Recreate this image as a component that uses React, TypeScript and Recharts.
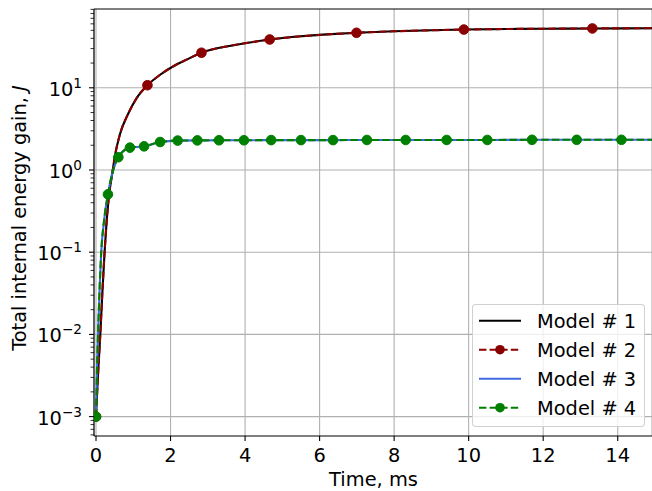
import React from "react";
import {
  CartesianGrid,
  ComposedChart,
  Legend,
  Line,
  ReferenceLine,
  XAxis,
  YAxis,
} from "recharts";

// Models 1/2: slow rise to ~53 J. Models 3/4: fast rise, plateau ~2.3 J.
const TIME_A = [0, 0.05, 0.115, 0.17, 0.23, 0.28, 0.34, 0.45, 0.51, 0.64, 0.87, 1.09, 1.38, 1.72, 2.16, 2.43, 2.83, 3.5, 4.0, 4.66, 5.5, 6.2, 6.99, 8.0, 9.0, 9.87, 11.0, 12.0, 13.32, 14.2, 15.0];
const MODEL_1 = [0.001, 0.003, 0.01, 0.032, 0.1, 0.22, 0.45, 1.0, 1.5, 2.7, 4.9, 7.5, 10.75, 14.4, 19.2, 22.0, 26.7, 31.8, 34.8, 38.7, 42.3, 44.6, 46.7, 48.7, 50.1, 51.1, 51.9, 52.3, 52.7, 52.9, 53.0];
const MODEL_2 = [0.001, 0.003, 0.01, 0.032, 0.1, 0.22, 0.45, 1.0, 1.5, 2.7, 4.9, 7.5, 10.75, 14.4, 19.2, 22.0, 26.7, 31.8, 34.8, 38.7, 42.3, 44.6, 46.7, 48.7, 50.1, 51.1, 51.9, 52.3, 52.7, 52.9, 53.0];
const MODEL_2_MARKS = [0, 1.38, 2.83, 4.66, 6.99, 9.87, 13.32];

const TIME_B = [0, 0.025, 0.054, 0.1, 0.14, 0.22, 0.32, 0.6, 0.91, 1.29, 1.72, 2.19, 2.72, 3.3, 3.97, 4.7, 5.5, 6.36, 7.27, 8.31, 9.41, 10.5, 11.7, 12.9, 14.1, 15.0];
const MODEL_3 = [0.001, 0.0035, 0.01, 0.04, 0.1, 0.25, 0.506, 1.43, 1.87, 1.94, 2.19, 2.28, 2.29, 2.3, 2.3, 2.31, 2.31, 2.31, 2.32, 2.32, 2.32, 2.32, 2.33, 2.33, 2.33, 2.33];
const MODEL_4 = [0.001, 0.0035, 0.01, 0.04, 0.1, 0.25, 0.506, 1.43, 1.87, 1.94, 2.19, 2.28, 2.29, 2.3, 2.3, 2.31, 2.31, 2.31, 2.32, 2.32, 2.32, 2.32, 2.33, 2.33, 2.33, 2.33];
const MODEL_4_MARKS = [0, 0.32, 0.6, 0.91, 1.29, 1.72, 2.19, 2.72, 3.3, 3.97, 4.7, 5.5, 6.36, 7.27, 8.31, 9.41, 10.5, 11.7, 12.9, 14.1];

const X_TICKS = [0, 2, 4, 6, 8, 10, 12, 14];
const Y_MAJOR = [0.001, 0.01, 0.1, 1, 10];
const Y_MINOR_MULT = [2, 3, 4, 5, 6, 7, 8, 9];
const LEGEND_NAMES = ["Model # 1", "Model # 2", "Model # 3", "Model # 4"];

const X_MIN = -0.054;
const X_MAX = 14.92;
const Y_MIN = 5.81e-4;
const Y_MAX = 90.9;

const FONT = '"DejaVu Sans", sans-serif';
const FS = 19.4;
const C1 = "#000000";
const C2 = "#8b0000";
const C3 = "#4169e1";
const C4 = "#008000";
const GRID = "#b0b0b0";

const toRows = (ts: number[], vs: number[]) => ts.map((t, i) => ({ t, v: vs[i] }));
const m1 = toRows(TIME_A, MODEL_1);
const m2 = toRows(TIME_A, MODEL_2);
const m3 = toRows(TIME_B, MODEL_3);
const m4 = toRows(TIME_B, MODEL_4);

const yTicks = [...Y_MAJOR, ...[0.0001, ...Y_MAJOR].flatMap((d) => Y_MINOR_MULT.map((m) => +(d * m).toPrecision(3)))]
  .filter((v) => v >= Y_MIN && v <= Y_MAX)
  .sort((a, b) => a - b);

const supMinus = (e: number) => (e < 0 ? `\u2212${-e}` : `${e}`);

function YTick(props: any) {
  const { x, y, payload } = props;
  const v = payload.value;
  if (!Y_MAJOR.includes(v)) {
    return <line x1={x - 3.5} x2={x} y1={y} y2={y} stroke="#000" strokeWidth={0.8} />;
  }
  const e = Math.round(Math.log10(v));
  return (
    <g>
      <line x1={x - 5} x2={x} y1={y} y2={y} stroke="#000" strokeWidth={1.1} />
      <text x={x - 12} y={y + 8} textAnchor="end" fontFamily={FONT} fontSize={FS} fill="#000">
        10<tspan dy={-8} fontSize={13.6}>{supMinus(e)}</tspan>
      </text>
    </g>
  );
}

function XTick(props: any) {
  const { x, y, payload } = props;
  return (
    <g>
      <line x1={x} x2={x} y1={y} y2={y + 5} stroke="#000" strokeWidth={1.1} />
      <text x={x} y={y + 25.5} textAnchor="middle" fontFamily={FONT} fontSize={FS} fill="#000">
        {payload.value}
      </text>
    </g>
  );
}

const markDot = (marks: number[], color: string) => (props: any) => {
  const { cx, cy, payload, index } = props;
  if (!marks.includes(payload.t)) return <g key={`n${index}`} />;
  return <circle key={`m${index}`} cx={cx} cy={cy} r={4.8} fill={color} stroke={color} strokeWidth={1} />;
};

function LegendBox() {
  const styles = [
    { color: C1, dash: undefined, mark: false },
    { color: C2, dash: "7.4 3.2", mark: true },
    { color: C3, dash: undefined, mark: false },
    { color: C4, dash: "7.4 3.2", mark: true },
  ];
  return (
    <div
      style={{
        width: 173,
        height: 123,
        boxSizing: "border-box",
        border: "1px solid rgba(204,204,204,0.9)",
        borderRadius: 4,
        background: "rgba(255,255,255,0.8)",
      }}
    >
      <svg width={171} height={121} style={{ display: "block" }}>
        {LEGEND_NAMES.map((name, i) => {
          const cy = 15.7 + i * 29;
          const s = styles[i];
          return (
            <g key={name}>
              <line x1={6} x2={48} y1={cy} y2={cy} stroke={s.color} strokeWidth={2.1} strokeDasharray={s.dash} />
              {s.mark && <circle cx={27} cy={cy} r={4.8} fill={s.color} />}
              <text x={64} y={cy + 7} fontFamily={FONT} fontSize={FS} fill="#000">
                {name}
              </text>
            </g>
          );
        })}
      </svg>
    </div>
  );
}

export default function App() {
  return (
    <div style={{ position: "absolute", left: 0, top: 0, width: 652, height: 491, background: "#fff" }}>
      <ComposedChart width={652} height={491} margin={{ top: 9, right: 0, bottom: 0, left: 0 }}>
        <CartesianGrid horizontal={false} stroke={GRID} strokeWidth={1.1} />
        {Y_MAJOR.map((v) => (
          <ReferenceLine key={v} y={v} stroke={GRID} strokeWidth={1.1} />
        ))}
        <ReferenceLine y={Y_MAX} stroke="#000" strokeWidth={1.1} ifOverflow="visible" />
        <XAxis
          dataKey="t"
          type="number"
          domain={[X_MIN, X_MAX]}
          allowDataOverflow
          ticks={X_TICKS}
          interval={0}
          tick={<XTick />}
          tickSize={0}
          tickMargin={0}
          tickLine={false}
          height={55}
          axisLine={{ stroke: "#000", strokeWidth: 1.1 }}
          label={{
            content: () => (
              <text x={373.5} y={486} textAnchor="middle" fontFamily={FONT} fontSize={FS} fill="#000">
                Time, ms
              </text>
            ),
          }}
        />
        <YAxis
          type="number"
          scale="log"
          domain={[Y_MIN, Y_MAX]}
          allowDataOverflow
          ticks={yTicks}
          interval={0}
          tick={<YTick />}
          tickSize={0}
          tickMargin={0}
          tickLine={false}
          width={94}
          axisLine={{ stroke: "#000", strokeWidth: 1.1 }}
          label={{
            content: () => (
              <text
                x={26}
                y={218}
                transform="rotate(-90 26 218)"
                textAnchor="middle"
                fontFamily={FONT}
                fontSize={FS}
                fill="#000"
              >
                Total internal energy gain, <tspan fontStyle="italic">J</tspan>
              </text>
            ),
          }}
        />
        <Line data={m1} dataKey="v" name="Model # 1" type="monotone" stroke={C1} strokeWidth={2.1} dot={false} activeDot={false} isAnimationActive={false} />
        <Line data={m2} dataKey="v" name="Model # 2" type="monotone" stroke={C2} strokeWidth={2.1} strokeDasharray="7.4 3.2" dot={markDot(MODEL_2_MARKS, C2)} activeDot={false} isAnimationActive={false} />
        <Line data={m3} dataKey="v" name="Model # 3" type="monotone" stroke={C3} strokeWidth={2.1} dot={false} activeDot={false} isAnimationActive={false} />
        <Line data={m4} dataKey="v" name="Model # 4" type="monotone" stroke={C4} strokeWidth={2.1} strokeDasharray="7.4 3.2" dot={markDot(MODEL_4_MARKS, C4)} activeDot={false} isAnimationActive={false} />
        <Legend
          layout="vertical"
          align="center"
          verticalAlign="middle"
          wrapperStyle={{ left: 472, top: 304, width: 173, height: 123 }}
          content={() => <LegendBox />}
        />
      </ComposedChart>
    </div>
  );
}
